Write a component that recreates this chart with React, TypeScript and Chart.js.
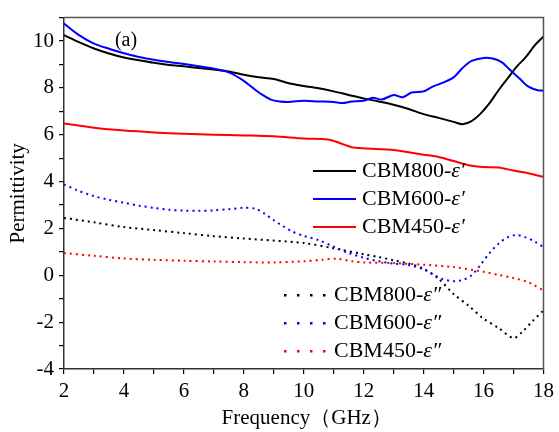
import React, { useEffect, useRef } from "react";
import { Chart, registerables } from "chart.js";

Chart.register(...registerables);

// ---------- data ----------
const freqE1_800 = [2, 2.5, 3, 3.5, 4, 4.5, 5, 5.5, 6, 6.5, 7, 7.5, 8, 8.5, 9, 9.5, 10, 10.5, 11, 11.5, 12, 12.5, 13, 13.5, 14, 14.5, 15, 15.3, 15.6, 15.9, 16.2, 16.5, 16.8, 17.1, 17.4, 17.7, 18];
const valE1_800 = [10.25, 9.95, 9.68, 9.47, 9.3, 9.18, 9.07, 8.98, 8.92, 8.85, 8.78, 8.7, 8.56, 8.45, 8.38, 8.2, 8.08, 7.98, 7.85, 7.7, 7.55, 7.42, 7.28, 7.1, 6.88, 6.72, 6.55, 6.45, 6.58, 6.9, 7.35, 7.9, 8.4, 8.9, 9.3, 9.8, 10.2];

const freqE1_600 = [2, 2.5, 3, 3.5, 4, 4.5, 5, 5.5, 6, 6.5, 7, 7.5, 8, 8.3, 8.6, 8.9, 9.2, 9.5, 10, 10.5, 11, 11.3, 11.6, 12, 12.3, 12.6, 13, 13.3, 13.6, 14, 14.3, 14.6, 15, 15.3, 15.6, 16, 16.3, 16.6, 16.9, 17.2, 17.5, 17.8, 18];
const valE1_600 = [10.75, 10.25, 9.89, 9.67, 9.48, 9.32, 9.2, 9.1, 9.02, 8.92, 8.82, 8.66, 8.3, 8.0, 7.72, 7.5, 7.42, 7.4, 7.45, 7.42, 7.4, 7.35, 7.42, 7.45, 7.58, 7.5, 7.7, 7.6, 7.8, 7.85, 8.05, 8.2, 8.45, 8.85, 9.15, 9.28, 9.25, 9.1, 8.75, 8.4, 8.05, 7.9, 7.88];

const freqE1_450 = [2, 3, 4, 5, 6, 7, 8, 9, 10, 10.8, 11.2, 11.6, 12, 13, 13.5, 14, 14.5, 15, 15.5, 16, 16.5, 17, 17.5, 18];
const valE1_450 = [6.48, 6.3, 6.18, 6.1, 6.04, 6.0, 5.97, 5.93, 5.84, 5.8, 5.65, 5.47, 5.42, 5.35, 5.25, 5.15, 5.05, 4.88, 4.7, 4.62, 4.6, 4.47, 4.36, 4.2];

const freqE2_800 = [2, 3, 4, 5, 6, 7, 8, 9, 10, 11, 12, 12.5, 13, 13.5, 14, 14.5, 15, 15.5, 16, 16.5, 17, 17.3, 17.6, 18];
const valE2_800 = [2.45, 2.26, 2.06, 1.93, 1.8, 1.67, 1.57, 1.48, 1.38, 1.15, 0.9, 0.78, 0.64, 0.5, 0.28, -0.15, -0.8, -1.3, -1.85, -2.25, -2.68, -2.4, -2.0, -1.5];

const freqE2_600 = [2, 2.5, 3, 3.5, 4, 4.5, 5, 5.5, 6, 6.5, 7, 7.5, 8, 8.4, 8.7, 9, 9.3, 9.6, 10, 10.5, 11, 11.5, 12, 12.5, 13, 13.5, 14, 14.3, 14.6, 15, 15.3, 15.6, 15.9, 16.2, 16.5, 16.8, 17.1, 17.4, 17.7, 18];
const valE2_600 = [3.88, 3.6, 3.38, 3.22, 3.1, 2.97, 2.88, 2.8, 2.76, 2.75, 2.77, 2.82, 2.88, 2.84, 2.62, 2.35, 2.1, 1.88, 1.68, 1.5, 1.22, 0.95, 0.75, 0.6, 0.5, 0.44, 0.25, 0.05, -0.15, -0.25, -0.2, 0.0, 0.45, 0.95, 1.35, 1.62, 1.72, 1.62, 1.45, 1.2];

const freqE2_450 = [2, 3, 4, 5, 6, 7, 8, 9, 10, 10.6, 11.1, 11.6, 12, 13, 14, 15, 16, 16.5, 17, 17.5, 18];
const valE2_450 = [0.95, 0.83, 0.72, 0.66, 0.62, 0.59, 0.56, 0.55, 0.6, 0.66, 0.71, 0.6, 0.55, 0.52, 0.45, 0.35, 0.15, 0.02, -0.12, -0.3, -0.65];

const legendSolid = ["CBM800-", "CBM600-", "CBM450-"];
const legendDotted = ["CBM800-", "CBM600-", "CBM450-"];
const colors = ["#000000", "#0000ff", "#ff0000"];

const xTitle = "Frequency（GHz）";
const yTitle = "Permittivity";
const panelLabel = "(a)";

const SERIF = "'Liberation Serif', 'Times New Roman', serif";

function pts(xs: number[], ys: number[]) {
  return xs.map((x, i) => ({ x, y: ys[i] }));
}

const overlayPlugin = {
  id: "overlay",
  afterDraw(chart: any) {
    const ctx = chart.ctx as CanvasRenderingContext2D;
    const { left, right, top, bottom } = chart.chartArea;
    ctx.save();
    // top and right frame
    ctx.strokeStyle = "#555";
    ctx.lineWidth = 1.5;
    ctx.beginPath();
    ctx.moveTo(left, top);
    ctx.lineTo(right, top);
    ctx.lineTo(right, bottom);
    ctx.stroke();

    // panel label
    ctx.fillStyle = "#000";
    ctx.font = `20px ${SERIF}`;
    ctx.textBaseline = "middle";
    ctx.textAlign = "center";
    ctx.fillText(panelLabel, left + 62, top + 23);

    // x-axis title
    ctx.font = `21px ${SERIF}`;
    ctx.fillText(xTitle, (left + right) / 2 + 3, bottom + 49);

    ctx.textAlign = "left";
    const drawEntry = (tx: number, ty: number, name: string, sym: string) => {
      ctx.font = `22px ${SERIF}`;
      ctx.fillStyle = "#000";
      ctx.fillText(name, tx, ty);
      const w = ctx.measureText(name).width;
      ctx.font = `italic 22px ${SERIF}`;
      ctx.fillText(sym, tx + w, ty);
    };

    // solid legend
    const rowsA = [171, 199, 227];
    rowsA.forEach((ry, i) => {
      const y = ry;
      ctx.strokeStyle = colors[i];
      ctx.lineWidth = 2;
      ctx.setLineDash([]);
      ctx.beginPath();
      ctx.moveTo(left + 249, y);
      ctx.lineTo(left + 292, y);
      ctx.stroke();
      drawEntry(left + 298, y, legendSolid[i], "ε′");
    });

    // dotted legend
    const rowsB = [295, 323, 351];
    rowsB.forEach((ry, i) => {
      ctx.fillStyle = colors[i];
      for (let k = 0; k < 4; k++) {
        ctx.fillRect(left + 220 + k * 13, ry - 1, 2.5, 2.5);
      }
      drawEntry(left + 270, ry, legendDotted[i], "ε″");
    });
    ctx.restore();
  },
};

export default function App() {
  const ref = useRef<HTMLCanvasElement | null>(null);

  useEffect(() => {
    if (!ref.current) return;
    const mk = (xs: number[], ys: number[], color: string, dotted: boolean) => ({
      data: pts(xs, ys),
      borderColor: color,
      backgroundColor: color,
      borderWidth: 2,
      borderDash: dotted ? [2, 4] : [],
      pointRadius: 0,
      fill: false,
      tension: 0.3,
    });
    const chart = new Chart(ref.current, {
      type: "line",
      data: {
        datasets: [
          mk(freqE2_450, valE2_450, colors[2], true),
          mk(freqE2_600, valE2_600, colors[1], true),
          mk(freqE2_800, valE2_800, colors[0], true),
          mk(freqE1_450, valE1_450, colors[2], false),
          mk(freqE1_600, valE1_600, colors[1], false),
          mk(freqE1_800, valE1_800, colors[0], false),
        ],
      },
      options: {
        animation: false,
        responsive: false,
        devicePixelRatio: 1,
        plugins: { legend: { display: false }, tooltip: { enabled: false } },
        layout: { padding: { top: 12, right: 10, left: 0, bottom: 0 } },
        scales: {
          x: {
            type: "linear",
            min: 2,
            max: 18,
            afterFit: (s: any) => {
              s.height = 63;
            },
            ticks: {
              stepSize: 1,
              autoSkip: false,
              maxRotation: 0,
              color: "#000",
              padding: 5,
              font: { family: SERIF, size: 21 },
              callback: (v: any) => (Number(v) % 2 === 0 ? String(v) : ""),
            },
            grid: { drawOnChartArea: false, tickLength: 5, color: "#000", lineWidth: 1.2 },
            border: { color: "#333", width: 1.5 },
            title: { display: false },
          },
          y: {
            min: -4,
            max: 11,
            afterFit: (s: any) => {
              s.width = 64;
            },
            ticks: {
              stepSize: 1,
              autoSkip: false,
              color: "#000",
              padding: 5,
              font: { family: SERIF, size: 21 },
              callback: (v: any) => {
                const n = Number(v);
                return n % 2 === 0 && n <= 10 ? String(n) : "";
              },
            },
            grid: { drawOnChartArea: false, tickLength: 5, color: "#000", lineWidth: 1.2 },
            border: { color: "#333", width: 1.5 },
            title: {
              display: true,
              text: yTitle,
              color: "#000",
              font: { family: SERIF, size: 21 },
              padding: { top: 6, bottom: 0 },
            },
          },
        },
      },
      plugins: [overlayPlugin],
    } as any);
    return () => chart.destroy();
  }, []);

  return (
    <div style={{ position: "absolute", left: 0, top: 0, width: 559, height: 432, background: "#fff" }}>
      <canvas ref={ref} width={559} height={432} style={{ width: 559, height: 432, display: "block" }} />
    </div>
  );
}
